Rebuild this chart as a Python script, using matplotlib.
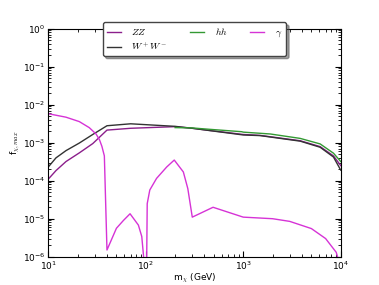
import numpy as np
import matplotlib
matplotlib.use("Agg")
import matplotlib.pyplot as plt

plt.rcParams['font.family'] = ['DejaVu Sans']
plt.rcParams['mathtext.fontset'] = 'cm'

# values (m_chi in GeV)
m_ww = [10, 12, 15.2, 20.8, 28.6, 40, 70, 200, 300, 457, 1000, 1490, 3840, 6150, 8430, 10000]
f_ww = [2.3e-4, 4.0e-4, 6.2e-4, 9.8e-4, 1.65e-3, 2.8e-3, 3.15e-3, 2.7e-3, 2.4e-3, 2.08e-3,
        1.6e-3, 1.54e-3, 1.1e-3, 7.6e-4, 4.2e-4, 1.9e-4]

m_zz = [10, 12, 15.2, 20.8, 28.6, 40, 70, 200, 300, 457, 1000, 1490, 3840, 6150, 8430, 10000]
f_zz = [1.1e-4, 1.85e-4, 3.2e-4, 5.4e-4, 9.5e-4, 2.15e-3, 2.4e-3, 2.65e-3, 2.4e-3, 2.1e-3,
        1.65e-3, 1.56e-3, 1.13e-3, 7.9e-4, 4.5e-4, 2.5e-4]

m_hh = [200, 300, 457, 965, 1000, 1890, 3840, 6150, 8430, 10000]
f_hh = [2.5e-3, 2.45e-3, 2.25e-3, 1.95e-3, 1.9e-3, 1.7e-3, 1.3e-3, 9.3e-4, 5.3e-4, 3.2e-4]

m_gam = [10, 15.2, 20.8, 26.3, 30.9, 33.5, 35.5, 37.6, 40, 50, 59, 69, 84, 91, 95, 97, 100.5, 103.5, 110,
         129, 164, 196, 243, 270, 300, 490, 1000, 2000, 3000, 5000, 7000, 9000, 10000]
f_gam = [5.8e-3, 4.7e-3, 3.6e-3, 2.5e-3, 1.7e-3, 1.2e-3, 8.0e-4, 4.5e-4, 1.5e-6, 5.6e-6, 9.0e-6, 1.35e-5,
         6.8e-6, 3.4e-6, 1.0e-6, 1e-8, 1e-8, 2.5e-5, 5.7e-5, 1.15e-4, 2.3e-4, 3.5e-4, 1.7e-4, 6.2e-5,
         1.1e-5, 2.0e-5, 1.1e-5, 1.0e-5, 8.5e-6, 5.5e-6, 3.0e-6, 1.3e-6, 5e-7]

fig = plt.figure(figsize=(3.79, 2.85), dpi=100)
ax = fig.add_axes([0.1274, 0.0993, 0.7716, 0.7998])

ax.plot(m_zz, f_zz, color='#8b1f8b', lw=1.0, label='$ZZ$')
ax.plot(m_ww, f_ww, color='#333333', lw=1.0, label='$W^+W^-$')
ax.plot(m_hh, f_hh, color='#339933', lw=1.0, label='$hh$')
ax.plot(m_gam, f_gam, color='#d633d6', lw=1.0, label=r'$\gamma$')

ax.set_xscale('log')
ax.set_yscale('log')
ax.set_xlim(10, 1e4)
ax.set_ylim(1e-6, 1)
ax.tick_params(which='both', direction='in', top=True, right=True, labelsize=6.5, pad=2)
ax.tick_params(which='major', length=4)
ax.tick_params(which='minor', length=2)
ax.set_xlabel(r'm$_\chi$ (GeV)', fontsize=6.5, labelpad=0)
ax.set_ylabel(r'f$_{\chi,max}$', fontsize=6.5, labelpad=1)

leg = ax.legend(loc='upper center', bbox_to_anchor=(0.5, 1.05), ncol=3, fontsize=7,
                fancybox=True, shadow=True, framealpha=1, handlelength=1.45,
                columnspacing=2.3, borderpad=0.4, labelspacing=0.3, handletextpad=1.1)
leg.get_frame().set_edgecolor('#444444')
leg.get_frame().set_linewidth(1.0)

fig.savefig('out.png', dpi=100)
